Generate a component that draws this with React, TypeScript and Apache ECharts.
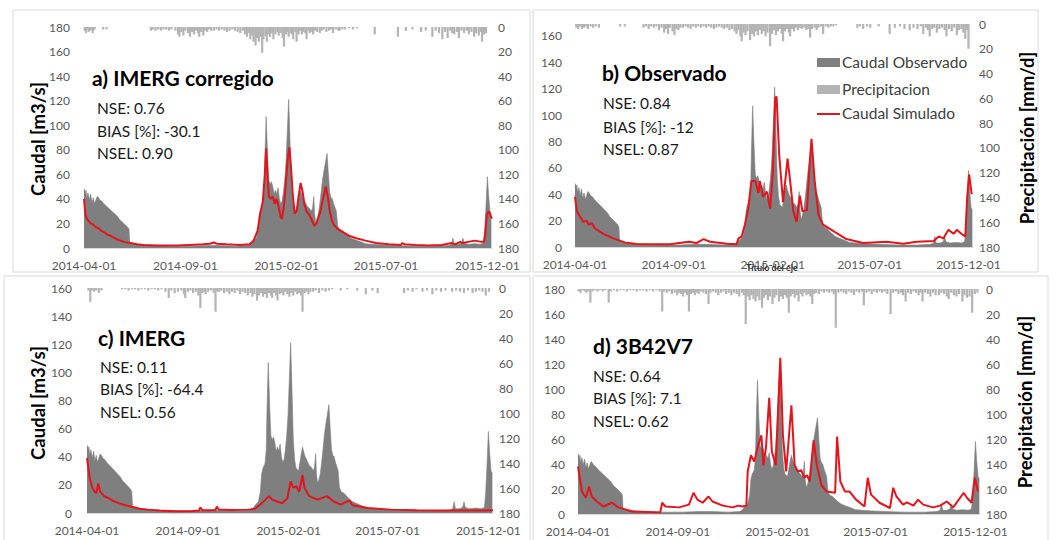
import React, { useEffect, useRef } from "react";
import * as echarts from "echarts";

// ---------- DATA ----------
const startDate = "2014-04-01";
const xTickLabels = ["2014-04-01", "2014-09-01", "2015-02-01", "2015-07-01", "2015-12-01"];
const dayOf = (d: string) => Math.round((Date.parse(d) - Date.parse(startDate)) / 86400000);
const xTickDays = xTickLabels.map(dayOf);

// [day since 2014-04-01, m3/s]
const observedFlow: number[][] = [
  [0, 46], [1, 48], [2, 44], [3, 47], [4, 41], [6, 45], [8, 39], [10, 44], [12, 37], [14, 41], [16, 36], [18, 39],
  [20, 42], [22, 41], [24, 39], [27, 38], [30, 36], [34, 34], [38, 32], [42, 30], [46, 28], [50, 26], [54, 23],
  [58, 21], [62, 19], [66, 17], [68, 15], [69, 5], [72, 3.5], [80, 3], [90, 2.5], [105, 2], [130, 1.5], [160, 1.5],
  [185, 2], [205, 2], [230, 1.5], [248, 2], [252, 3.5], [256, 6], [260, 8], [263, 15], [265, 28], [267, 32],
  [270, 35], [272, 45], [273, 72], [275, 107], [277, 78], [279, 55], [281, 52], [283, 54], [285, 50], [287, 44],
  [289, 47], [291, 44], [293, 49], [295, 40], [297, 36], [299, 38], [301, 45], [303, 55], [305, 70], [307, 95],
  [309, 121], [311, 88], [313, 52], [315, 38], [317, 32], [319, 31], [321, 30], [323, 36], [325, 42], [327, 47],
  [329, 43], [331, 40], [333, 38], [335, 36], [337, 34], [339, 33], [341, 32], [343, 30], [345, 32], [347, 42],
  [348, 28], [350, 21], [352, 24], [354, 28], [356, 36], [358, 45], [360, 55], [362, 62], [364, 68], [367, 77],
  [369, 60], [371, 45], [373, 41], [375, 40], [377, 36], [379, 33], [381, 30], [383, 18], [386, 15], [390, 14],
  [394, 12], [398, 10], [403, 8], [410, 6.5], [418, 5], [425, 3.5], [435, 3], [450, 2.5], [470, 2], [500, 1.5],
  [530, 1.5], [550, 2], [555, 3], [557, 8], [559, 3], [565, 3], [570, 4], [572, 8], [574, 4], [580, 3],
  [590, 3.5], [598, 3], [603, 4], [605, 15], [607, 35], [609, 58], [611, 42], [613, 30], [615, 28],
];

const simulatedA: number[][] = [
  [0, 40], [2, 28], [4, 24], [7, 22], [10, 20], [14, 19], [18, 17], [22, 16], [26, 14], [30, 13], [35, 11],
  [40, 10], [45, 8.5], [50, 7], [55, 6], [60, 5], [70, 4], [80, 3], [90, 2.5], [110, 2], [140, 2], [160, 2.5],
  [180, 3], [190, 3.5], [196, 4.5], [200, 3.5], [215, 3], [235, 2.5], [250, 3], [256, 6], [262, 14], [266, 28],
  [270, 38], [273, 60], [275, 81], [277, 60], [279, 42], [282, 40], [285, 42], [288, 36], [291, 40], [294, 33],
  [297, 25], [299, 24], [302, 35], [305, 55], [308, 75], [310, 82], [312, 70], [315, 45], [318, 28], [321, 30],
  [324, 42], [327, 53], [330, 46], [333, 35], [336, 30], [340, 27], [343, 24], [346, 20], [348, 18], [351, 20],
  [354, 25], [357, 30], [360, 38], [363, 45], [365, 50], [368, 42], [371, 30], [374, 23], [377, 19], [382, 16],
  [391, 13], [400, 10], [411, 8], [425, 6], [441, 4], [460, 3], [478, 2.5], [481, 4], [484, 3], [500, 2.5],
  [520, 2], [540, 2.5], [555, 4], [560, 3], [568, 5], [572, 4], [580, 5], [590, 6], [600, 5], [604, 5],
  [606, 12], [608, 27], [611, 30], [614, 26], [616, 24],
];

const simulatedB: number[][] = [
  [0, 38], [3, 27], [8, 23], [13, 19], [18, 20], [21, 17], [26, 18], [31, 14], [44, 10], [59, 6.5], [77, 3.5],
  [95, 2.3], [147, 2], [176, 4], [188, 3], [199, 6], [209, 4], [235, 2.5], [250, 2], [253, 6.5], [258, 8],
  [263, 17], [268, 29], [273, 50], [279, 50], [284, 41], [286, 50], [291, 38], [297, 42], [302, 29], [306, 55],
  [310, 113], [312, 114], [316, 70], [322, 34], [329, 67], [333, 50], [338, 27], [343, 19], [348, 39], [352, 27],
  [359, 28], [363, 62], [366, 82], [371, 50], [377, 24], [384, 17], [400, 12], [420, 6], [446, 3], [482, 4],
  [508, 2.5], [529, 4], [555, 4.5], [563, 8], [570, 6.5], [578, 13], [586, 10], [591, 13], [598, 10], [604, 8],
  [607, 38], [610, 55], [614, 40],
];

const simulatedC: number[][] = [
  [0, 39], [4, 25], [8, 18], [12, 15], [14, 14], [17, 21], [20, 15], [26, 12], [33, 10.5], [40, 8.5], [48, 7],
  [58, 5.5], [68, 4.5], [80, 3], [93, 2.4], [110, 1.8], [134, 1.2], [160, 1.5], [170, 1.8], [172, 4], [175, 2],
  [185, 2], [195, 2.2], [197, 4.5], [200, 2.5], [220, 2.2], [245, 2.4], [255, 3], [263, 6], [271, 9.5],
  [276, 12], [281, 9.5], [289, 8], [296, 7], [304, 10.5], [309, 22.5], [313, 18], [318, 19], [322, 15],
  [327, 27], [330, 18], [337, 12], [350, 9.5], [364, 12], [375, 8], [385, 6], [398, 9], [403, 5.5], [426, 3.5],
  [461, 2.4], [500, 2], [550, 1.8], [600, 1.8], [616, 2],
];

const simulatedD: number[][] = [
  [0, 38], [6, 18], [12, 13], [17, 22], [21, 14], [29, 10], [39, 6], [52, 9], [62, 5.3], [83, 2], [126, 1.3],
  [129, 9], [134, 6], [155, 5.3], [170, 7.5], [177, 17], [183, 11.5], [191, 9], [200, 14], [206, 10], [222, 6.7],
  [237, 5.3], [245, 6.7], [252, 6], [258, 6.7], [260, 34], [265, 47], [270, 42], [276, 55], [281, 63], [284, 39],
  [288, 53], [293, 93], [297, 50], [303, 39], [310, 125], [314, 63], [319, 34], [327, 87], [332, 39], [337, 34],
  [342, 35], [347, 29], [351, 31], [355, 26], [361, 59], [366, 39], [373, 23], [381, 18], [394, 17], [397, 62],
  [402, 26], [409, 18], [416, 18], [426, 11.5], [439, 6], [444, 29], [449, 15.5], [462, 9], [478, 4.8], [483, 21],
  [488, 14], [498, 7.5], [504, 9.3], [514, 6.7], [521, 11.5], [529, 7.5], [544, 5.3], [555, 6.7], [565, 10],
  [575, 5.3], [591, 17], [596, 13], [603, 9], [608, 29], [613, 18],
];

// [day, mm/d]
const precipA: number[][] = [
  [1, 3], [3, 5], [5, 2], [7, 4], [9, 3], [11, 2], [13, 5], [14, 3], [16, 2], [29, 2], [34, 2],
  [101, 3], [104, 2], [108, 3], [112, 2], [116, 3], [120, 2], [124, 2], [128, 3], [132, 2], [138, 3], [142, 6],
  [144, 8], [147, 4], [150, 7], [153, 3], [157, 5], [160, 8], [163, 4], [166, 6], [169, 3], [172, 5], [174, 8],
  [177, 4], [180, 7], [183, 3], [186, 4], [189, 2], [192, 3], [196, 3], [200, 2], [204, 3], [208, 2], [212, 3],
  [216, 4], [220, 3], [224, 2], [228, 3], [232, 4], [236, 5], [240, 3],
  [243, 6], [246, 8], [249, 5], [251, 10], [254, 7], [256, 12], [259, 15], [261, 9], [264, 12], [266, 8],
  [269, 21], [271, 10], [274, 7], [276, 12], [279, 6], [281, 8], [284, 5], [286, 10], [289, 6], [292, 4],
  [294, 7], [297, 5], [300, 9], [302, 16], [305, 6], [307, 4], [309, 8], [312, 5], [314, 6], [316, 10],
  [319, 4], [321, 12], [324, 6], [326, 3], [329, 6], [331, 4], [334, 5], [336, 10], [339, 3], [341, 5],
  [344, 4], [346, 6], [349, 3], [352, 4], [356, 5], [359, 3], [362, 2], [366, 4], [370, 3], [373, 2],
  [376, 5], [380, 2], [384, 3], [386, 3], [390, 2], [394, 2], [400, 1], [406, 2], [412, 1],
  [439, 6], [474, 8], [486, 3], [496, 2], [509, 4], [516, 3], [526, 8], [531, 3], [536, 5], [541, 10],
  [545, 4], [549, 9], [553, 3], [556, 5], [559, 6], [563, 4], [566, 9], [570, 3], [574, 5], [578, 3],
  [581, 6], [585, 4], [589, 8], [592, 5], [596, 7], [599, 4], [601, 12], [604, 6], [607, 5],
];

const precipB: number[][] = [
  [2, 3], [5, 4], [8, 2], [11, 4], [14, 3], [17, 2], [20, 4], [24, 2], [28, 3], [32, 2], [37, 3], [70, 2],
  [77, 2], [106, 3], [110, 2], [114, 4], [118, 2], [122, 3], [126, 2], [130, 5], [134, 3], [138, 7], [141, 4],
  [144, 8], [147, 3], [151, 6], [154, 9], [157, 4], [160, 5], [163, 3], [167, 3], [171, 2], [175, 3], [179, 4],
  [183, 2], [187, 3], [191, 2], [195, 3], [199, 2], [203, 3], [207, 2], [211, 3], [215, 4], [219, 3], [223, 2],
  [227, 3], [231, 4], [235, 3], [239, 5], [243, 4], [247, 6], [250, 8], [253, 5], [256, 10], [258, 14],
  [261, 7], [264, 9], [267, 6], [271, 13], [274, 8], [277, 10], [280, 6], [283, 9], [286, 5], [289, 8],
  [292, 6], [295, 10], [298, 7], [302, 18], [305, 8], [308, 5], [311, 9], [314, 6], [317, 4], [320, 8],
  [322, 14], [325, 6], [328, 4], [331, 7], [333, 10], [336, 4], [339, 6], [342, 3], [345, 5], [348, 3],
  [351, 4], [355, 3], [358, 5], [361, 4], [364, 11], [367, 4], [371, 3], [374, 5], [377, 3], [381, 2],
  [384, 8], [388, 2], [392, 3], [396, 2], [400, 2], [404, 1], [437, 3], [441, 2], [446, 4], [452, 2],
  [457, 3], [470, 2], [487, 8], [495, 3], [503, 2], [510, 4], [518, 5], [524, 3], [530, 4], [535, 2],
  [539, 8], [543, 3], [546, 5], [549, 10], [553, 4], [556, 3], [560, 7], [564, 4], [568, 3], [572, 5],
  [575, 10], [579, 4], [583, 6], [587, 3], [591, 9], [594, 5], [598, 4], [601, 7], [604, 12], [607, 5],
  [609, 20],
];

const precipC: number[][] = [
  [2, 2], [5, 11], [8, 2], [11, 3], [14, 2], [18, 4], [22, 2], [53, 1], [58, 1], [63, 2], [68, 1], [73, 1],
  [78, 2], [83, 1], [88, 1], [93, 2], [98, 1], [103, 1], [108, 2], [113, 1], [119, 3], [124, 8], [128, 2],
  [133, 4], [138, 3], [143, 2], [147, 5], [149, 8], [153, 3], [157, 2], [161, 4], [165, 3], [169, 6],
  [172, 16], [175, 4], [178, 3], [180, 5], [184, 3], [188, 2], [192, 4], [195, 19], [198, 3], [201, 3],
  [204, 2], [208, 4], [212, 3], [216, 5], [220, 3], [224, 4], [228, 2], [232, 5], [236, 3], [240, 4],
  [244, 6], [248, 4], [251, 7], [254, 5], [258, 10], [261, 6], [264, 4], [267, 7], [270, 5], [273, 8],
  [276, 4], [279, 6], [281, 8], [284, 4], [287, 6], [289, 10], [292, 5], [295, 4], [298, 6], [301, 3],
  [304, 5], [307, 7], [310, 4], [313, 6], [316, 3], [319, 5], [322, 4], [325, 6], [327, 19], [330, 4],
  [333, 3], [336, 5], [339, 3], [343, 3], [347, 2], [352, 4], [357, 2], [362, 3], [367, 2], [372, 1],
  [385, 2], [395, 1], [410, 2], [423, 5], [433, 2], [441, 4], [481, 4], [487, 2], [494, 3], [500, 1],
  [509, 3], [516, 2], [524, 5], [530, 2], [537, 3], [544, 2], [554, 3], [560, 2], [566, 3], [572, 4],
  [578, 2], [585, 4], [590, 3], [595, 2], [600, 3], [605, 6], [610, 3],
];

const precipD: number[][] = [
  [1, 2], [4, 3], [7, 1], [10, 2], [13, 3], [16, 2], [19, 11], [22, 2], [26, 1], [30, 2], [34, 1], [38, 2],
  [42, 1], [47, 11], [50, 2], [55, 1], [60, 2], [65, 1], [70, 1], [75, 2], [80, 1], [85, 1], [90, 2], [95, 1],
  [100, 1], [105, 2], [110, 1], [115, 2], [120, 1], [125, 2], [129, 18], [132, 2], [136, 3], [140, 2],
  [144, 4], [148, 3], [152, 5], [155, 3], [158, 4], [161, 6], [164, 3], [167, 5], [170, 18], [173, 4],
  [176, 3], [179, 5], [182, 3], [185, 4], [188, 2], [192, 3], [196, 4], [200, 12], [203, 3], [207, 2],
  [211, 3], [215, 5], [219, 3], [223, 2], [227, 4], [231, 3], [235, 5], [239, 3], [243, 4], [247, 6],
  [251, 3], [254, 5], [257, 28], [260, 6], [263, 9], [266, 5], [269, 8], [272, 10], [275, 6], [278, 9],
  [282, 15], [285, 7], [288, 5], [291, 9], [294, 6], [298, 12], [301, 7], [304, 5], [308, 10], [311, 6],
  [314, 8], [317, 5], [320, 7], [323, 19], [326, 6], [329, 4], [332, 7], [335, 5], [338, 10], [341, 4],
  [344, 6], [347, 3], [350, 5], [353, 4], [356, 6], [359, 12], [362, 4], [365, 3], [369, 4], [373, 2],
  [377, 3], [381, 2], [385, 3], [389, 2], [392, 4], [395, 31], [399, 3], [403, 2], [407, 3], [411, 4],
  [415, 2], [419, 3], [423, 5], [427, 2], [431, 3], [435, 2], [438, 13], [442, 3], [446, 2], [450, 4],
  [454, 2], [458, 3], [462, 2], [466, 3], [470, 2], [474, 4], [479, 20], [483, 3], [487, 2], [491, 4],
  [495, 3], [498, 5], [502, 10], [506, 3], [510, 4], [514, 2], [518, 3], [522, 5], [525, 3], [528, 10],
  [532, 3], [536, 4], [540, 6], [544, 3], [548, 5], [553, 5], [557, 3], [561, 4], [565, 6], [568, 8],
  [572, 3], [576, 5], [580, 6], [584, 4], [589, 10], [592, 5], [596, 7], [600, 6], [604, 19], [608, 4],
  [612, 3],
];

const panelTitles = ["a) IMERG corregido", "b) Observado", "c) IMERG", "d) 3B42V7"];
const panelStats = [
  ["NSE: 0.76", "BIAS [%]: -30.1", "NSEL: 0.90"],
  ["NSE: 0.84", "BIAS [%]: -12", "NSEL: 0.87"],
  ["NSE: 0.11", "BIAS [%]: -64.4", "NSEL: 0.56"],
  ["NSE: 0.64", "BIAS [%]: 7.1", "NSEL: 0.62"],
];
const simulatedSeries = [simulatedA, simulatedB, simulatedC, simulatedD];
const precipSeries = [precipA, precipB, precipC, precipD];
const leftAxisMax = [180, 169, 160, 180];
const rightAxisMax = 180;
const seriesNames = ["Caudal Observado", "Precipitacion", "Caudal Simulado"];

// ---------- LAYOUT / STYLE ----------
const FONT = "Lato, 'Open Sans', sans-serif";
const OBS_COLOR = "#7f7f7f";
const PRECIP_COLOR = "#b4b4b4";
const SIM_COLOR = "#e3141c";
const LABEL_COLOR = "#595959";

const grids = [
  { left: 84, top: 27, width: 408, height: 221, leftMargin: 14 },
  { left: 575, top: 24, width: 398, height: 223, leftMargin: 13 },
  { left: 87, top: 288, width: 406, height: 225, leftMargin: 15 },
  { left: 578, top: 289, width: 402, height: 225, leftMargin: 13 },
];
const titlePos = [
  { x: 92, y: 77 }, { x: 602, y: 72 }, { x: 98, y: 337 }, { x: 593, y: 345 },
];
const statsPos = [
  { x: 97, y: [108, 131, 153] },
  { x: 603, y: [103, 127, 149] },
  { x: 100, y: [367, 389, 412] },
  { x: 593, y: [376, 398, 421] },
];
const frames = [
  { x: 13, y: 10, width: 517, height: 262 },
  { x: 533, y: 10, width: 505, height: 262 },
  { x: 4, y: 276, width: 526, height: 270 },
  { x: 533, y: 276, width: 515, height: 270 },
];

export default function App() {
  const ref = useRef<HTMLDivElement>(null);

  useEffect(() => {
    if (!ref.current) return;
    const chart = echarts.init(ref.current, undefined, { renderer: "svg" });

    const xAxis: any[] = [];
    const yAxis: any[] = [];
    const series: any[] = [];

    grids.forEach((g, i) => {
      xAxis.push({
        type: "value",
        gridIndex: i,
        min: 0,
        max: 616,
        axisLine: { show: true, lineStyle: { color: "#d9d9d9" } },
        axisTick: { show: false },
        splitLine: { show: false },
        axisLabel: {
          customValues: xTickDays,
          formatter: (v: number) => {
            const k = xTickDays.indexOf(Math.round(v));
            return k >= 0 ? xTickLabels[k] : "";
          },
          color: LABEL_COLOR,
          fontSize: 12,
          fontFamily: FONT,
          margin: 11,
        },
      });
      yAxis.push({
        type: "value",
        gridIndex: i,
        position: "left",
        min: 0,
        max: leftAxisMax[i],
        interval: 20,
        axisLine: { show: false },
        axisTick: { show: false },
        splitLine: { show: false },
        axisLabel: {
          color: LABEL_COLOR,
          fontSize: 12,
          fontFamily: FONT,
          margin: g.leftMargin,
          showMaxLabel: leftAxisMax[i] % 20 === 0,
        },
      });
      yAxis.push({
        type: "value",
        gridIndex: i,
        position: "right",
        inverse: true,
        min: 0,
        max: rightAxisMax,
        interval: 20,
        axisLine: { show: false },
        axisTick: { show: false },
        splitLine: { show: false },
        axisLabel: { color: LABEL_COLOR, fontSize: 12, fontFamily: FONT, margin: 6 },
      });

      series.push({
        name: seriesNames[1],
        type: "bar",
        xAxisIndex: i,
        yAxisIndex: 2 * i + 1,
        barWidth: 2.2,
        itemStyle: { color: PRECIP_COLOR },
        data: precipSeries[i],
        z: 1,
      });
      series.push({
        name: seriesNames[0],
        type: "line",
        xAxisIndex: i,
        yAxisIndex: 2 * i,
        symbol: "none",
        lineStyle: { width: 0.6, color: OBS_COLOR },
        itemStyle: { color: OBS_COLOR },
        areaStyle: { color: OBS_COLOR, opacity: 1 },
        data: observedFlow,
        z: 2,
      });
      series.push({
        name: seriesNames[2],
        type: "line",
        xAxisIndex: i,
        yAxisIndex: 2 * i,
        symbol: "none",
        lineStyle: { width: 2, color: SIM_COLOR },
        itemStyle: { color: SIM_COLOR },
        data: simulatedSeries[i],
        z: 3,
      });
    });

    const graphic: any[] = [];
    frames.forEach((f) => {
      graphic.push({
        type: "rect",
        shape: f,
        style: { fill: "none", stroke: "#d9d9d9", lineWidth: 1 },
        silent: true,
        z: -1,
      });
    });
    titlePos.forEach((p, i) => {
      graphic.push({
        type: "text",
        x: p.x,
        y: p.y,
        style: {
          text: panelTitles[i],
          font: `bold 21px ${FONT}`,
          fill: "#000",
          verticalAlign: "middle",
        },
        z: 10,
      });
      statsPos[i].y.forEach((yy, k) => {
        graphic.push({
          type: "text",
          x: statsPos[i].x,
          y: yy,
          style: {
            text: panelStats[i][k],
            font: `15.5px ${FONT}`,
            fill: "#1a1a1a",
            verticalAlign: "middle",
          },
          z: 10,
        });
      });
    });
    // axis titles
    [
      { x: 38, y: 139, t: "Caudal [m3/s]" },
      { x: 38, y: 403, t: "Caudal [m3/s]" },
      { x: 1027, y: 138, t: "Precipitación [mm/d]" },
      { x: 1025, y: 402, t: "Precipitación [mm/d]" },
    ].forEach((a) => {
      graphic.push({
        type: "text",
        x: a.x,
        y: a.y,
        rotation: Math.PI / 2,
        style: {
          text: a.t,
          font: `bold 18.5px ${FONT}`,
          fill: "#000",
          align: "center",
          verticalAlign: "middle",
        },
        z: 10,
      });
    });
    graphic.push({
      type: "text",
      x: 772,
      y: 267,
      style: {
        text: "Título del eje",
        font: `bold 9px ${FONT}`,
        fill: "#333",
        align: "center",
        verticalAlign: "middle",
      },
      z: 10,
    });
    // legend (panel b)
    graphic.push({ type: "rect", shape: { x: 817, y: 58, width: 23, height: 9 }, style: { fill: OBS_COLOR }, z: 10 });
    graphic.push({ type: "rect", shape: { x: 817, y: 85, width: 23, height: 9 }, style: { fill: PRECIP_COLOR }, z: 10 });
    graphic.push({
      type: "line",
      shape: { x1: 817, y1: 114, x2: 840, y2: 114 },
      style: { stroke: SIM_COLOR, lineWidth: 2 },
      z: 10,
    });
    [62, 89, 113].forEach((yy, k) => {
      graphic.push({
        type: "text",
        x: 842,
        y: yy,
        style: {
          text: [seriesNames[0], seriesNames[1], seriesNames[2]][k],
          font: `15.5px ${FONT}`,
          fill: "#404040",
          verticalAlign: "middle",
        },
        z: 10,
      });
    });

    chart.setOption({
      animation: false,
      backgroundColor: "#fff",
      grid: grids.map((g) => ({ left: g.left, top: g.top, width: g.width, height: g.height })),
      xAxis,
      yAxis,
      series,
      graphic,
    });

    return () => chart.dispose();
  }, []);

  return (
    <div
      ref={ref}
      style={{ position: "absolute", left: 0, top: 0, width: 1060, height: 540, background: "#fff" }}
    />
  );
}
